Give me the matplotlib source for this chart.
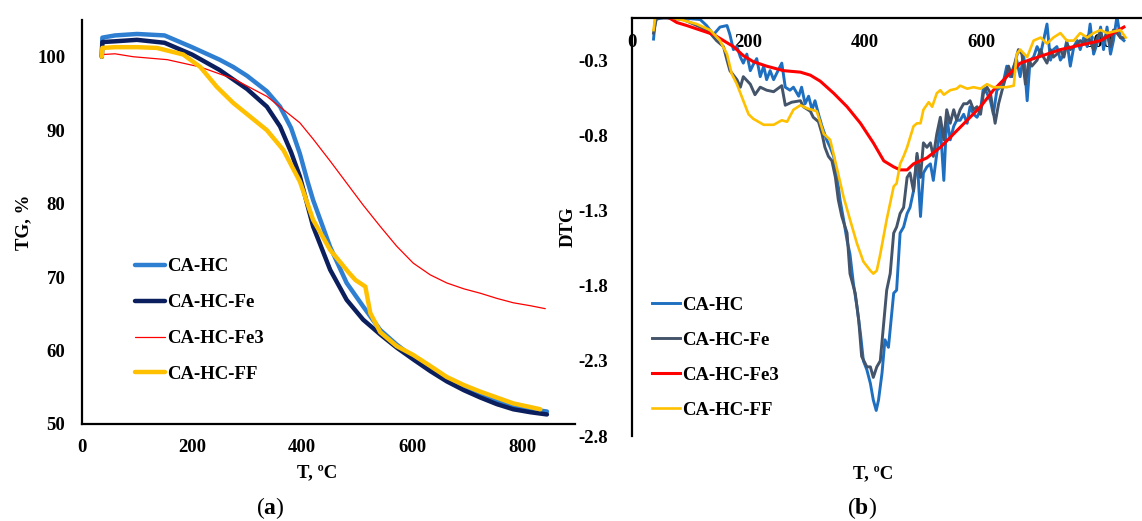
import matplotlib
matplotlib.use("Agg")
import matplotlib.pyplot as plt

plt.rcParams["font.family"] = ["Liberation Serif", "DejaVu Serif"]
plt.rcParams["font.weight"] = "bold"
plt.rcParams["mathtext.fontset"] = "custom"
plt.rcParams["mathtext.rm"] = "Liberation Serif"
plt.rcParams["mathtext.bf"] = "Liberation Serif:bold"

labels = ["CA-HC", "CA-HC-Fe", "CA-HC-Fe3", "CA-HC-FF"]

# ---- TG data (a)
tg_t_hc = [36, 37, 60, 100, 150, 200, 250, 275, 300, 336, 360, 380, 396, 410, 420, 451,
           481, 511, 542, 572, 602, 633, 663, 694, 724, 754, 784, 815, 845]
tg_hc = [100, 102.6, 102.9, 103.1, 102.9, 101.3, 99.6, 98.6, 97.4, 95.3, 93.2, 90.3, 86.8,
         83.0, 80.5, 74.1, 69.2, 66.0, 62.8, 60.8, 59.1, 57.5, 56.0, 54.9, 54.0, 53.2,
         52.5, 52.0, 51.7]

tg_t_fe = [36, 37, 60, 100, 150, 200, 250, 300, 336, 360, 380, 396, 420, 451, 481, 511,
           542, 572, 602, 633, 663, 694, 724, 754, 784, 815, 845]
tg_fe = [100, 102.0, 102.1, 102.3, 101.9, 100.3, 98.2, 95.6, 93.2, 90.5, 87.0, 83.7, 76.9,
         71.0, 66.9, 64.2, 62.2, 60.4, 58.8, 57.2, 55.8, 54.6, 53.6, 52.7, 52.0, 51.6, 51.3]

tg_t_fe3 = [36, 37, 60, 93, 155, 215, 275, 336, 396, 420, 451, 481, 511, 542, 572, 602,
            633, 663, 694, 724, 754, 784, 815, 842]
tg_fe3 = [100, 100.3, 100.4, 100.0, 99.6, 98.6, 97.0, 94.6, 91.0, 88.8, 85.8, 82.8, 79.8,
          76.9, 74.2, 71.9, 70.3, 69.2, 68.4, 67.8, 67.1, 66.5, 66.1, 65.7]

tg_t_ff = [36, 37, 60, 100, 136, 184, 215, 245, 275, 336, 366, 396, 420, 451, 485, 497,
           515, 524, 542, 572, 602, 633, 663, 694, 724, 754, 784, 815, 833]
tg_ff = [100, 101.2, 101.3, 101.3, 101.2, 100.3, 98.6, 95.9, 93.7, 90.0, 87.3, 83.0, 77.8,
         73.7, 70.6, 69.6, 68.7, 65.1, 62.5, 60.6, 59.4, 57.9, 56.4, 55.3, 54.4, 53.6,
         52.8, 52.3, 52.0]

# ---- DTG data (b)
dtg_t_hc = [37, 40, 60, 88, 117, 128, 140, 151, 163, 168, 174, 180, 186, 191, 197, 203,
            208, 214, 220, 226, 231, 237, 243, 248, 257, 263, 271, 277, 286, 291, 297,
            303, 309, 314, 320, 326, 334, 340, 346, 351, 357, 363, 369, 374, 380, 386,
            392, 397, 403, 409, 414, 419, 423, 429, 434, 440, 449, 454, 460, 466, 472,
            477, 483, 489, 495, 500, 506, 512, 517, 523, 529, 535, 540, 546, 552, 557,
            563, 569, 575, 580, 586, 592, 598, 603, 609, 615, 620, 626, 632, 638, 643,
            649, 655, 660, 666, 672, 678, 683, 689, 695, 701, 706, 712, 718, 723, 729,
            735, 741, 746, 752, 758, 764, 769, 775, 781, 786, 792, 798, 804, 809, 815,
            821, 826, 832, 838, 844]
dtg_hc = [-0.16, -0.03, -0.01, -0.02, -0.03, -0.07, -0.13, -0.08, -0.07, -0.13, -0.23,
          -0.21, -0.28, -0.32, -0.26, -0.37, -0.33, -0.29, -0.41, -0.34, -0.43, -0.37,
          -0.43, -0.39, -0.32, -0.48, -0.50, -0.48, -0.54, -0.48, -0.59, -0.54, -0.63,
          -0.57, -0.66, -0.74, -0.83, -0.88, -0.94, -1.05, -1.23, -1.36, -1.50, -1.59,
          -1.79, -1.94, -2.12, -2.30, -2.36, -2.45, -2.56, -2.63, -2.56, -2.38, -2.16,
          -2.21, -1.85, -1.83, -1.45, -1.41, -1.32, -1.28, -1.17, -0.94, -1.34, -1.05,
          -1.01, -0.99, -1.10, -0.92, -0.74, -1.10, -0.68, -0.83, -0.74, -0.70, -0.70,
          -0.66, -0.72, -0.61, -0.66, -0.68, -0.63, -0.48, -0.52, -0.57, -0.66, -0.50,
          -0.48, -0.43, -0.34, -0.41, -0.34, -0.30, -0.41, -0.26, -0.57, -0.30, -0.28,
          -0.21, -0.26, -0.17, -0.06, -0.30, -0.23, -0.21, -0.30, -0.26, -0.17, -0.34,
          -0.21, -0.17, -0.23, -0.15, -0.21, -0.06, -0.26, -0.19, -0.08, -0.23, -0.08,
          -0.26, -0.17, -0.01, -0.15, -0.17]

dtg_t_fe = [37, 42, 60, 88, 117, 134, 145, 157, 163, 168, 180, 186, 191, 203, 211, 220,
            231, 243, 257, 263, 274, 289, 294, 306, 311, 320, 326, 331, 337, 343, 349,
            354, 360, 369, 374, 383, 389, 394, 403, 409, 414, 420, 426, 437, 443, 449,
            454, 460, 466, 472, 477, 483, 489, 495, 500, 506, 512, 517, 523, 529, 535,
            540, 546, 552, 557, 563, 569, 575, 580, 586, 592, 598, 603, 609, 615, 623,
            629, 635, 640, 646, 652, 658, 663, 669, 675, 681, 686, 695, 701, 706, 712,
            718, 723, 729, 735, 741, 746, 752, 758, 764, 769, 775, 781, 786, 792, 798,
            804, 809, 815, 821, 826, 832, 838, 844]
dtg_fe = [-0.12, -0.02, -0.02, -0.03, -0.08, -0.12, -0.17, -0.21, -0.30, -0.37, -0.43,
          -0.48, -0.41, -0.46, -0.53, -0.48, -0.50, -0.51, -0.47, -0.60, -0.58, -0.57,
          -0.61, -0.64, -0.68, -0.71, -0.79, -0.88, -0.94, -0.97, -1.08, -1.23, -1.34,
          -1.45, -1.72, -1.85, -2.03, -2.27, -2.34, -2.34, -2.41, -2.34, -2.30, -1.83,
          -1.72, -1.45, -1.41, -1.32, -1.28, -1.08, -1.05, -1.17, -0.92, -1.08, -0.85,
          -0.88, -0.85, -0.94, -0.79, -0.68, -0.83, -0.63, -0.72, -0.63, -0.70, -0.63,
          -0.59, -0.59, -0.57, -0.63, -0.61, -0.66, -0.52, -0.48, -0.52, -0.72, -0.59,
          -0.50, -0.43, -0.34, -0.41, -0.30, -0.23, -0.26, -0.46, -0.30, -0.34, -0.30,
          -0.23, -0.28, -0.32, -0.23, -0.28, -0.26, -0.23, -0.28, -0.19, -0.23, -0.21,
          -0.19, -0.17, -0.19, -0.15, -0.17, -0.23, -0.15, -0.12, -0.17, -0.12, -0.21,
          -0.10, -0.12, -0.15, -0.15]

dtg_t_fe3 = [60, 77, 94, 117, 140, 157, 174, 191, 208, 231, 260, 289, 306, 323, 346, 369,
             392, 414, 432, 449, 460, 472, 483, 506, 529, 552, 575, 598, 620, 643, 666,
             689, 712, 735, 758, 781, 804, 826, 844]
dtg_fe3 = [-0.01, -0.05, -0.07, -0.10, -0.13, -0.17, -0.21, -0.27, -0.31, -0.34, -0.37,
           -0.38, -0.40, -0.44, -0.52, -0.61, -0.72, -0.85, -0.97, -1.01, -1.03, -1.03,
           -0.99, -0.95, -0.88, -0.79, -0.70, -0.61, -0.50, -0.41, -0.32, -0.29, -0.26,
           -0.23, -0.21, -0.19, -0.17, -0.12, -0.08]

dtg_t_ff = [37, 40, 60, 83, 111, 134, 151, 163, 171, 180, 191, 200, 208, 226, 243, 257,
            266, 277, 289, 300, 317, 329, 340, 351, 363, 374, 386, 397, 409, 414, 420,
            426, 437, 449, 454, 460, 466, 472, 483, 489, 495, 500, 509, 515, 523, 529,
            535, 546, 557, 563, 575, 586, 598, 609, 620, 632, 643, 655, 660, 666, 678,
            689, 701, 712, 723, 735, 746, 758, 769, 781, 792, 804, 815, 826, 838, 847]
dtg_ff = [-0.10, -0.01, -0.01, -0.03, -0.06, -0.10, -0.17, -0.26, -0.39, -0.46, -0.57,
          -0.66, -0.69, -0.73, -0.73, -0.70, -0.71, -0.63, -0.60, -0.62, -0.64, -0.79,
          -0.83, -1.01, -1.21, -1.36, -1.52, -1.64, -1.70, -1.72, -1.70, -1.59, -1.36,
          -1.14, -1.12, -0.99, -0.94, -0.88, -0.74, -0.72, -0.72, -0.63, -0.58, -0.61,
          -0.52, -0.50, -0.53, -0.50, -0.49, -0.47, -0.49, -0.48, -0.49, -0.46, -0.48,
          -0.48, -0.48, -0.47, -0.26, -0.23, -0.28, -0.17, -0.15, -0.19, -0.15, -0.12,
          -0.17, -0.17, -0.12, -0.15, -0.12, -0.10, -0.12, -0.11, -0.10, -0.15]

tg_colors = ["#2E7FD2", "#0B1F5E", "#FF0000", "#FFC000"]
tg_widths = [3.2, 3.2, 0.9, 3.2]
dtg_colors = ["#1F6FC0", "#44546A", "#FF0000", "#FFC000"]
dtg_widths = [2.1, 2.1, 2.2, 1.9]

fig = plt.figure(figsize=(11.42, 5.21), dpi=100)
ax1 = fig.add_axes([0.0718, 0.1862, 0.4317, 0.7754])
ax2 = fig.add_axes([0.5534, 0.1631, 0.4466, 0.8023])

fs = 13.5

# (a) TG
tg_x = [tg_t_hc, tg_t_fe, tg_t_fe3, tg_t_ff]
tg_y = [tg_hc, tg_fe, tg_fe3, tg_ff]
for x, y, c, w, lab in zip(tg_x, tg_y, tg_colors, tg_widths, labels):
    ax1.plot(x, y, color=c, lw=w, label=lab, solid_capstyle="round")
ax1.set_xlim(0, 896)
ax1.set_ylim(50, 105)
ax1.set_xticks([0, 200, 400, 600, 800])
ax1.set_yticks([50, 60, 70, 80, 90, 100])
for s in ["top", "right"]:
    ax1.spines[s].set_visible(False)
for s in ["left", "bottom"]:
    ax1.spines[s].set_linewidth(1.6)
ax1.tick_params(axis="y", length=0, pad=12, labelsize=fs)
ax1.tick_params(axis="x", length=0, pad=11, labelsize=fs)
ax1.set_ylabel("TG, %", fontsize=fs, fontweight="bold")
ax1.yaxis.set_label_coords(-0.101, 0.5)
ax1.set_xlabel("T, \u00baC", fontsize=fs, fontweight="bold")
ax1.xaxis.set_label_coords(0.477, -0.10)
ax1.legend(loc="center left", bbox_to_anchor=(0.1075, 0.256), frameon=False,
           fontsize=fs, handlelength=1.6, handletextpad=0.1, labelspacing=1.0,
           borderpad=0, borderaxespad=0)

# (b) DTG
dtg_x = [dtg_t_hc, dtg_t_fe, dtg_t_fe3, dtg_t_ff]
dtg_y = [dtg_hc, dtg_fe, dtg_fe3, dtg_ff]
for x, y, c, w, lab in zip(dtg_x, dtg_y, dtg_colors, dtg_widths, labels):
    ax2.plot(x, y, color=c, lw=w, label=lab)
ax2.set_xlim(0, 875)
ax2.set_ylim(-2.8, -0.02)
ax2.set_xticks([0, 200, 400, 600, 800])
ax2.set_yticks([-0.3, -0.8, -1.3, -1.8, -2.3, -2.8])
ax2.set_yticklabels(["-0.3", "-0.8", "-1.3", "-1.8", "-2.3", "-2.8"])
for s in ["bottom", "right"]:
    ax2.spines[s].set_visible(False)
for s in ["left", "top"]:
    ax2.spines[s].set_linewidth(1.6)
ax2.tick_params(axis="x", bottom=False, labelbottom=False, top=True, labeltop=True,
                length=0, pad=-24, labelsize=fs)
ax2.tick_params(axis="y", length=0, pad=17, labelsize=fs)
ax2.set_ylabel("DTG", fontsize=fs, fontweight="bold")
ax2.yaxis.set_label_coords(-0.108, 0.5)
ax2.set_xlabel("T, \u00baC", fontsize=fs, fontweight="bold")
ax2.xaxis.set_label_position("bottom")
ax2.xaxis.set_label_coords(0.4725, -0.07)
ax2.legend(loc="center left", bbox_to_anchor=(0.039, 0.187), frameon=False,
           fontsize=fs, handlelength=1.5, handletextpad=0.1, labelspacing=0.95,
           borderpad=0, borderaxespad=0)

fig.text(270 / 1142, 1 - 508 / 521, r"($\mathbf{a}$)", ha="center", va="center",
         fontsize=17, fontweight="normal")
fig.text(862 / 1142, 1 - 508 / 521, r"($\mathbf{b}$)", ha="center", va="center",
         fontsize=17, fontweight="normal")

fig.savefig("out.png", dpi=100)
